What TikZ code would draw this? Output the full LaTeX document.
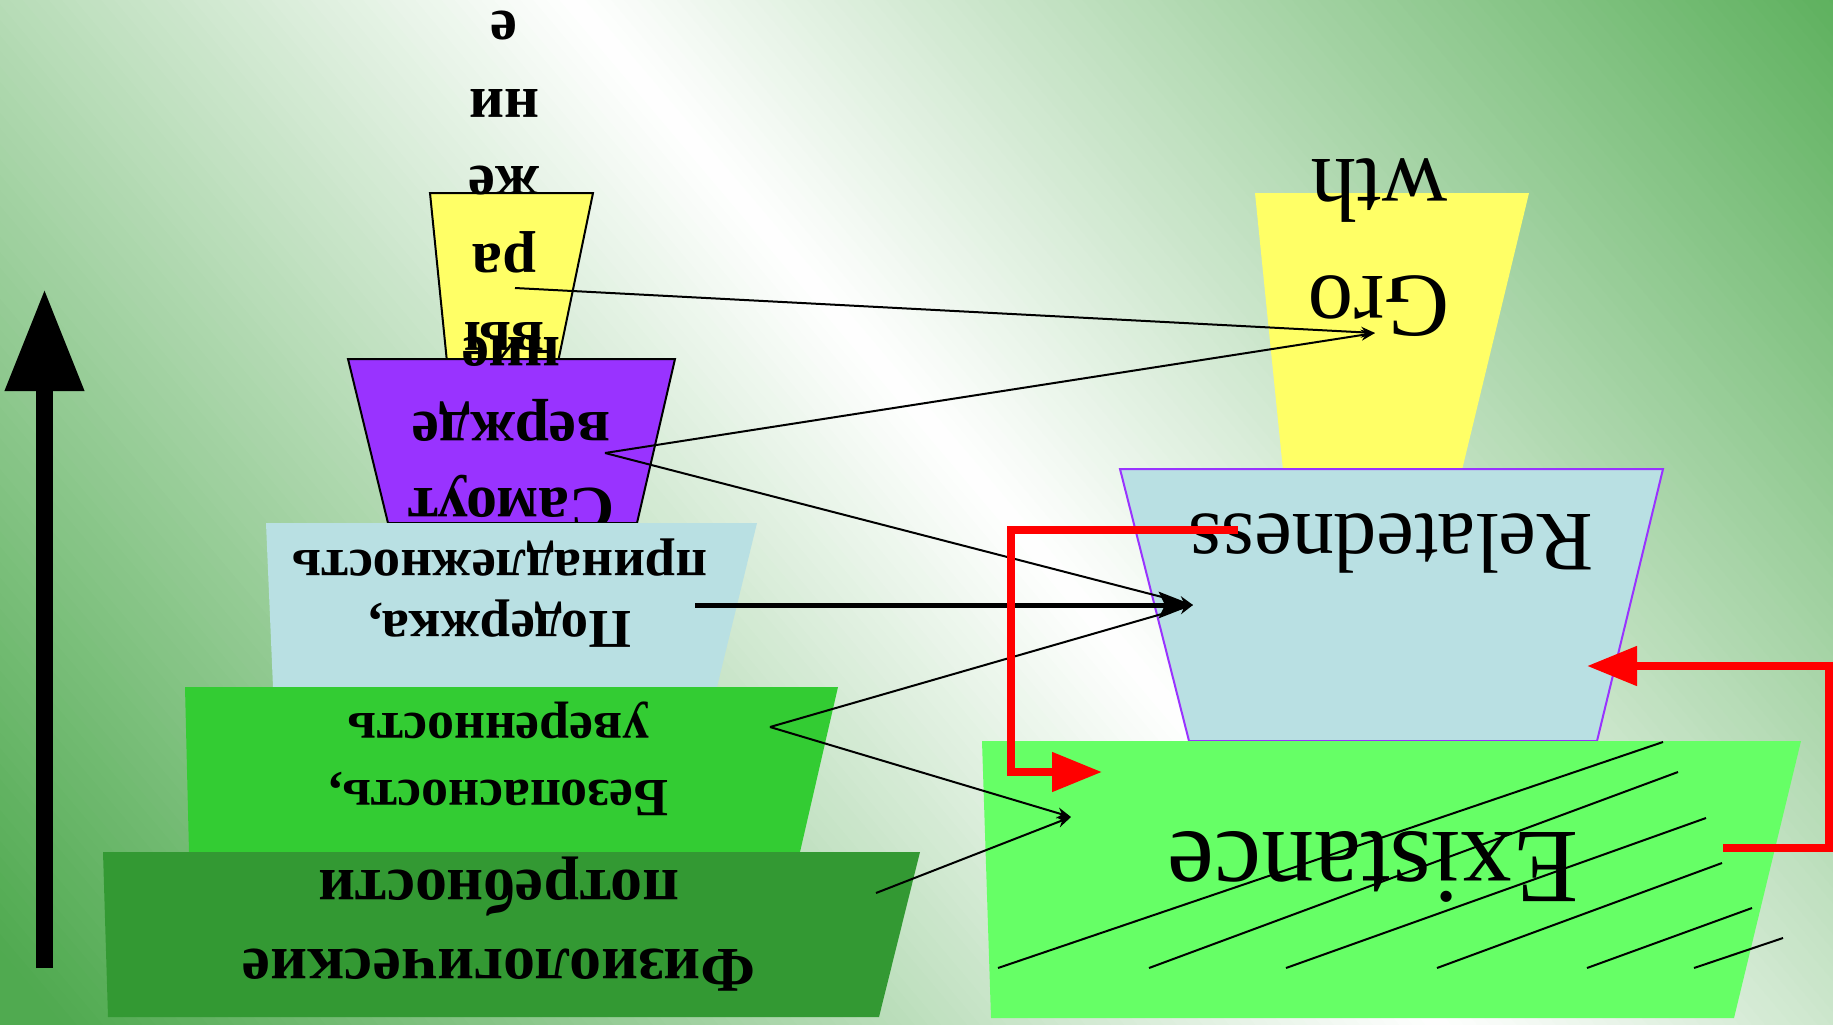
\documentclass[tikz,border=0pt]{standalone}
\usepackage{fontspec}
\setmainfont{Liberation Serif}
\usetikzlibrary{arrows.meta}
\definecolor{bggreen}{RGB}{80,170,80}
\definecolor{yel}{HTML}{FFFF66}
\definecolor{purp}{HTML}{9933FF}
\definecolor{lblue}{HTML}{B9E0E3}
\definecolor{grn}{HTML}{33CC33}
\definecolor{dgrn}{HTML}{339933}
\definecolor{lgrn}{HTML}{66FF66}
\definecolor{redc}{HTML}{FF0000}
\begin{document}
\begin{tikzpicture}[x=1bp,y=1bp,
  lbl/.style={rotate=180, align=center, inner sep=0pt, text=black},
  thinarr/.style={line width=2bp, -{Stealth[length=14bp,width=11bp]}},
  thickarr/.style={line width=5bp, -{Stealth[length=34bp,width=26bp,inset=6bp]}},
  redarr/.style={line width=8bp, redc, -{Triangle[length=50bp,width=38bp]}},
  hatch/.style={line width=2bp, black},
  edge/.style={line width=2bp, draw=black}]
\useasboundingbox (0,0) rectangle (1833,-1024);
% background gradient
\begin{scope}
\clip (0,0) rectangle (1833,-1024);
\begin{scope}[shift={(1005.5,-512)}, rotate=-49.8]
\foreach \i in {0,...,229}{
  \pgfmathsetmacro\t{-1150+\i*10+5}
  \pgfmathsetmacro\p{min(100,abs(\t)/1050*100)}
  \fill[bggreen!\p!white] (-2700,\t-5.4) rectangle (2700,\t+5.4);
}
\end{scope}
\end{scope}

% left pyramid
\fill[yel, edge] (430,-193) -- (593,-193) -- (558,-362) -- (447,-362) -- cycle;
\node[lbl, font=\bfseries\fontsize{61}{78}\selectfont] (selfexp) at (504,-180.5) {вы\\ра\\же\\ни\\е};
\fill[purp, edge] (348,-359) -- (675,-359) -- (637,-523) -- (388,-523) -- cycle;
\node[lbl, font=\bfseries\fontsize{62}{76}\selectfont] (selfaff) at (511,-433) {Самоут\\вержде\\ние};
\fill[lblue] (266,-523) -- (757,-523) -- (717,-687) -- (273,-687) -- cycle;
\node[lbl, font=\bfseries\fontsize{55}{62}\selectfont] (support) at (500,-593) {Подержка,\\принадлежность};
\fill[grn] (185,-687) -- (838,-687) -- (800,-852) -- (189,-852) -- cycle;
\node[lbl, font=\bfseries\fontsize{54}{67}\selectfont] (safety) at (499,-758.5) {Безопасность,\\уверенность};
\fill[dgrn] (103,-852) -- (920,-852) -- (879,-1017) -- (108,-1017) -- cycle;
\node[lbl, font=\bfseries\fontsize{64}{80}\selectfont] (physio) at (499,-924) {Физиологические\\потребности};

% right pyramid
\fill[yel] (1255,-193) -- (1529,-193) -- (1462,-470) -- (1283,-470) -- cycle;
\node[lbl, font=\fontsize{91}{117}\selectfont] (growth) at (1379,-247.5) {Gro\\wth};
\filldraw[fill=lblue, draw=purp, line width=2bp] (1120,-469) -- (1663,-469) -- (1597,-741) -- (1189,-741) -- cycle;
\node[lbl, font=\fontsize{85}{100}\selectfont, anchor=base] (related) at (1391,-514) {Relatedness};
\fill[lgrn] (982,-741) -- (1801,-741) -- (1734,-1018) -- (991,-1018) -- cycle;
\node[lbl, font=\fontsize{106}{124}\selectfont, anchor=base] (exist) at (1373,-832) {Existance};

% hatching
\draw[hatch] (998,-968) -- (1663,-742);
\draw[hatch] (1149,-968) -- (1678,-772);
\draw[hatch] (1286,-968) -- (1706,-818);
\draw[hatch] (1437,-968) -- (1722,-863);
\draw[hatch] (1587,-968) -- (1752,-908);
\draw[hatch] (1694,-968) -- (1783,-938);

% connector end points
\coordinate (yA) at (515,-288);
\coordinate (pA) at (605,-453);
\coordinate (bA) at (695,-605);
\coordinate (gA) at (770,-727);
\coordinate (dA) at (876,-893);
\coordinate (growT) at (1375,-333);
\coordinate (relT) at (1193,-605);
\coordinate (exT) at (1071,-817);
\coordinate (r1s) at (1238,-530);
\coordinate (r1e) at (1102,-772);
\coordinate (r2s) at (1723,-848);
\coordinate (r2e) at (1587,-666);
\coordinate (upS) at (44.5,-968);
\coordinate (upE) at (44.5,-289);

\draw[thinarr] (yA) -- (growT);
\draw[thinarr] (pA) -- (growT);
\draw[thinarr] (pA) -- (relT);
\draw[thinarr] (gA) -- (relT);
\draw[thinarr] (gA) -- (exT);
\draw[thinarr] (dA) -- (exT);
\draw[thickarr] (bA) -- (relT);

\draw[redarr] (r1s) -- ++(-227,0) |- (r1e);
\draw[redarr] (r2s) -- ++(106,0) |- (r2e);

\draw[line width=17bp, -{Triangle[length=102bp,width=75bp]}] (upS) -- (upE);
\end{tikzpicture}
\end{document}
